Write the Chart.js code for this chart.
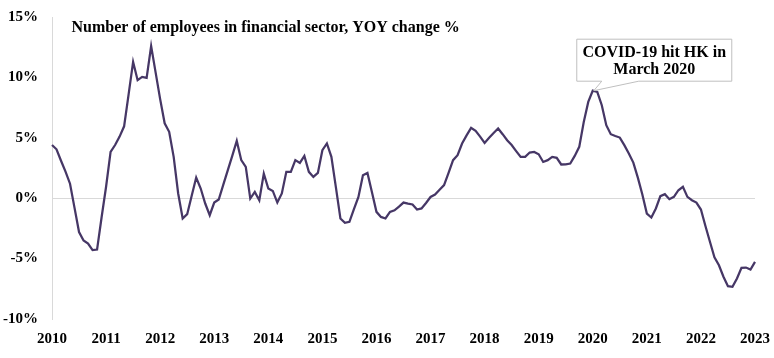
<!DOCTYPE html>
<html>
<head>
<meta charset="utf-8">
<script src="https://cdn.jsdelivr.net/npm/chart.js@4.4.1/dist/chart.umd.min.js"></script>
<style>
  html, body { margin: 0; padding: 0; background: #ffffff; }
  #wrap { width: 774px; height: 358px; }
</style>
</head>
<body>
<div id="wrap"><canvas id="c" width="774" height="358"></canvas></div>
<script>
// ---- data ----
const years = ['2010','2011','2012','2013','2014','2015','2016','2017','2018','2019','2020','2021','2022','2023'];
const chartTitle = 'Number of employees in financial sector, YOY change %';
const yoyChange = [
  // 2010
  4.4, 4.05, 3.1, 2.2, 1.2, -0.8, -2.8, -3.5, -3.75, -4.3, -4.25, -1.6,
  // 2011
  0.95, 3.83, 4.4, 5.1, 5.95, 8.6, 11.28, 9.77, 10.04, 9.96, 12.6, 10.4,
  // 2012
  8.2, 6.2, 5.5, 3.42, 0.39, -1.68, -1.32, 0.2, 1.71, 0.8, -0.44, -1.41,
  // 2013
  -0.36, -0.11, 1.1, 2.3, 3.5, 4.74, 3.15, 2.6, -0.03, 0.52, -0.17, 2.04,
  // 2014
  0.8, 0.6, -0.36, 0.39, 2.18, 2.18, 3.15, 2.92, 3.5, 2.18, 1.76, 2.09,
  // 2015
  3.97, 4.53, 3.42, 0.9, -1.68, -2.04, -1.96, -0.9, 0.1, 1.9, 2.09, 0.5,
  // 2016
  -1.13, -1.55, -1.68, -1.13, -1.0, -0.7, -0.36, -0.45, -0.52, -0.94, -0.85, -0.4,
  // 2017
  0.1, 0.3, 0.7, 1.08, 2.1, 3.15, 3.56, 4.53, 5.2, 5.82, 5.57, 5.1,
  // 2018
  4.58, 5.0, 5.4, 5.77, 5.3, 4.8, 4.4, 3.9, 3.42, 3.42, 3.78, 3.83,
  // 2019
  3.64, 3.0, 3.15, 3.42, 3.34, 2.79, 2.8, 2.87, 3.5, 4.25, 6.3, 7.97,
  // 2020
  8.9, 8.8, 7.7, 6.04, 5.3, 5.15, 5.02, 4.39, 3.7, 2.95, 1.7, 0.3,
  // 2021
  -1.27, -1.6, -0.85, 0.17, 0.33, -0.08, 0.11, 0.66, 0.94, 0.11, -0.17, -0.36,
  // 2022
  -0.94, -2.3, -3.6, -4.9, -5.55, -6.5, -7.28, -7.34, -6.65, -5.77, -5.74, -5.9,
  // 2023
  -5.27
];
const yTicks = [-10, -5, 0, 5, 10, 15];
const calloutLines = ['COVID-19 hit HK in', 'March 2020'];
const calloutIndex = 120; // peak point the callout points to

// monthly category labels
const monthLabels = [];
years.forEach(y => { for (let m = 1; m <= 12; m++) monthLabels.push(y + '-' + String(m).padStart(2, '0')); });
const labels = monthLabels.slice(0, yoyChange.length);

const FONT = '"Liberation Serif", "Times New Roman", serif';

const overlayPlugin = {
  id: 'overlay',
  afterDatasetsDraw(chart) {
    const ctx = chart.ctx;
    const area = chart.chartArea;
    const xs = chart.scales.x, ys = chart.scales.y;
    ctx.save();
    // title inside plot area
    ctx.fillStyle = '#000';
    ctx.font = 'bold 16px ' + FONT;
    ctx.textAlign = 'left';
    ctx.textBaseline = 'alphabetic';
    ctx.fillText(chartTitle, area.left + 19.5, area.top + 14.5);

    // callout anchored to the data point
    const tx = xs.getPixelForValue(calloutIndex);
    const ty = ys.getPixelForValue(yoyChange[calloutIndex]);
    const L = tx - 16, R = tx + 139, T = ty - 51.5, B = ty - 9.5;
    ctx.beginPath();
    ctx.moveTo(L, T);
    ctx.lineTo(R, T);
    ctx.lineTo(R, B);
    ctx.lineTo(tx + 46, B);
    ctx.lineTo(tx + 1, ty);
    ctx.lineTo(tx + 9, B);
    ctx.lineTo(L, B);
    ctx.closePath();
    ctx.fillStyle = '#ffffff';
    ctx.fill();
    ctx.strokeStyle = '#bfbfbf';
    ctx.lineWidth = 1;
    ctx.stroke();
    ctx.fillStyle = '#000';
    ctx.font = 'bold 16px ' + FONT;
    ctx.textAlign = 'center';
    const cx = (L + R) / 2;
    ctx.fillText(calloutLines[0], cx, T + 18);
    ctx.fillText(calloutLines[1], cx, T + 35);
    ctx.restore();
  }
};

new Chart(document.getElementById('c'), {
  type: 'line',
  data: {
    labels: labels,
    datasets: [{
      data: yoyChange,
      borderColor: '#463766',
      borderWidth: 2.25,
      pointRadius: 0,
      tension: 0,
      fill: false
    }]
  },
  options: {
    responsive: false,
    animation: false,
    devicePixelRatio: 1,
    layout: { padding: { top: 17, right: 19, left: 0, bottom: 0 } },
    plugins: { legend: { display: false }, tooltip: { enabled: false }, title: { display: false } },
    scales: {
      x: {
        type: 'category',
        offset: false,
        grid: { display: false, drawTicks: false },
        border: { display: false },
        ticks: {
          autoSkip: false,
          maxRotation: 0,
          minRotation: 0,
          padding: 11,
          color: '#000',
          font: { family: FONT, size: 15, weight: 'bold' },
          callback: function (v, i) { return (i % 12 === 0) ? years[i / 12] : ''; }
        },
        afterFit: function (s) { s.height = 39; s.paddingLeft = 0; s.paddingRight = 0; }
      },
      y: {
        min: yTicks[0],
        max: yTicks[yTicks.length - 1],
        afterBuildTicks: function (s) { s.ticks = yTicks.map(v => ({ value: v })); },
        grid: {
          drawTicks: false,
          color: c => (c.tick && c.tick.value === 0) ? '#d9d9d9' : 'rgba(0,0,0,0)',
          lineWidth: 1
        },
        border: { display: true, color: '#d9d9d9', width: 1 },
        ticks: {
          padding: 14,
          color: '#000',
          font: { family: FONT, size: 15, weight: 'bold' },
          callback: v => v + '%'
        },
        afterFit: function (s) { s.width = 52; s.paddingTop = 0; s.paddingBottom = 0; }
      }
    }
  },
  plugins: [overlayPlugin]
});
</script>
</body>
</html>
